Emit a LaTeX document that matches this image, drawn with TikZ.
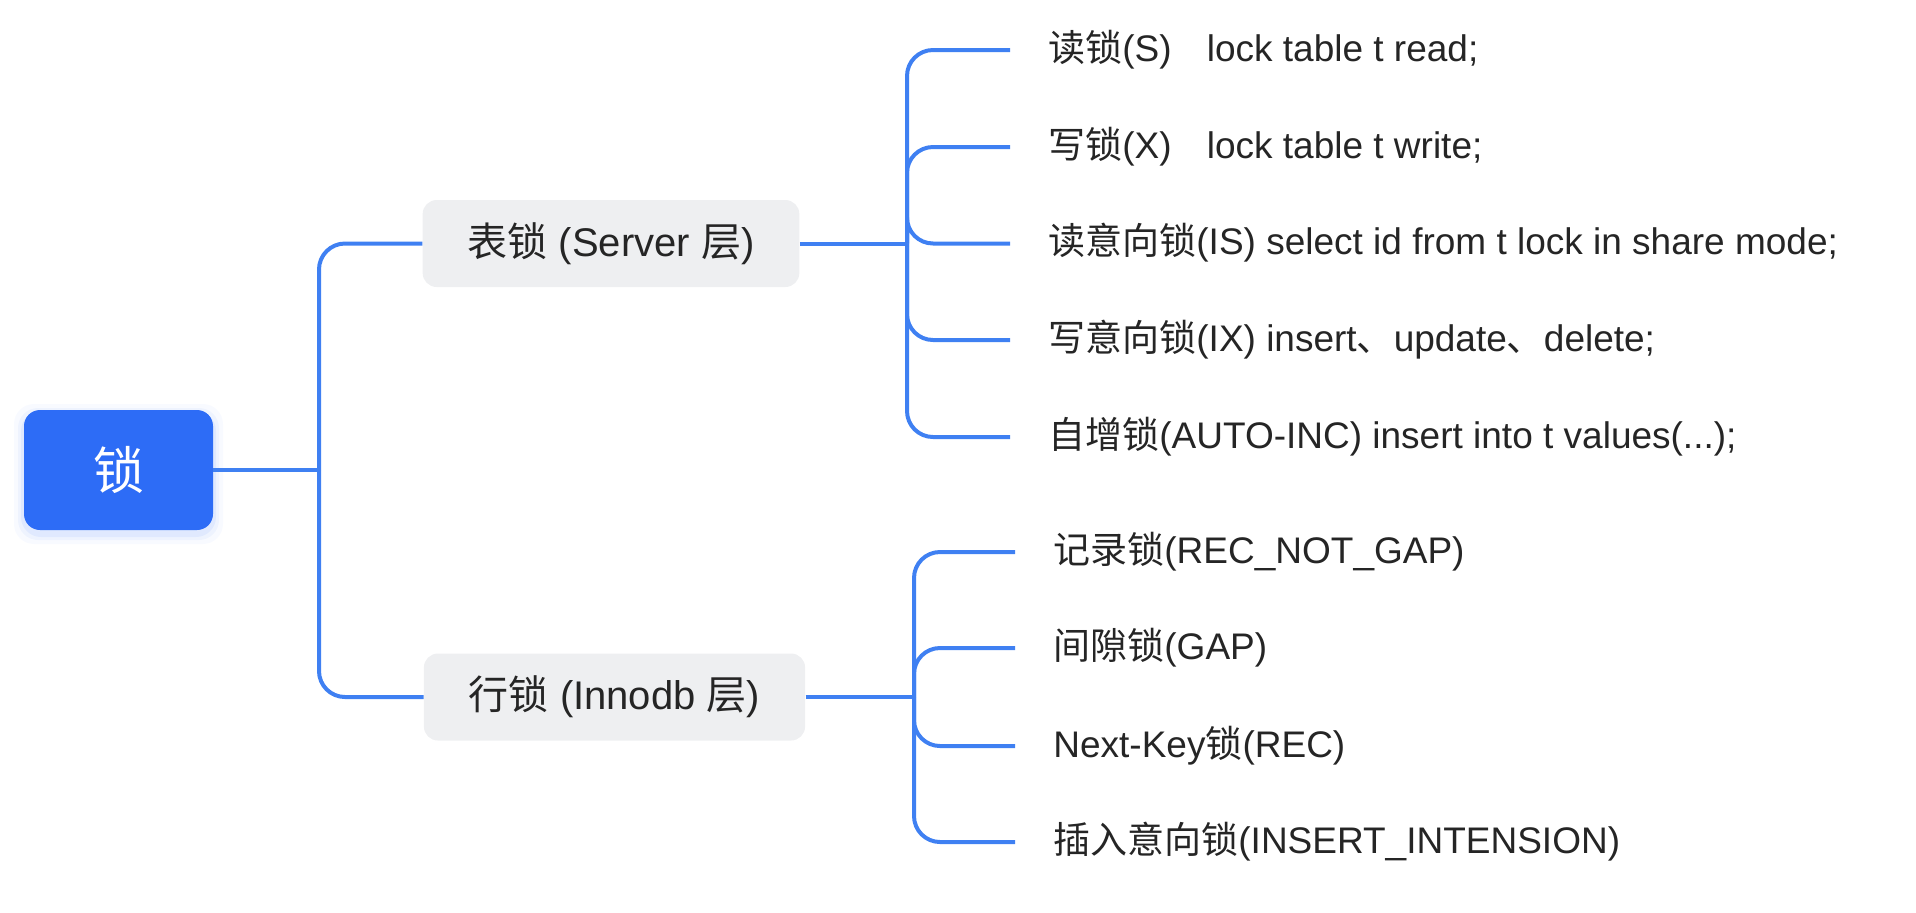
\documentclass[tikz,border=0pt]{standalone}
\usepackage{fontspec}
\setmainfont{Liberation Sans}
\newfontfamily\cjk{Noto Sans CJK SC}
\usetikzlibrary{positioning}
\definecolor{lineblue}{HTML}{3F80F2}
\definecolor{rootblue}{HTML}{2D6CF6}
\definecolor{boxgrey}{HTML}{EEEFF1}
\definecolor{txt}{HTML}{252525}
\newcommand{\zh}[1]{{\cjk #1}}
\tikzset{
  conn/.style={draw=lineblue, line width=2pt, rounded corners=13pt},
  rootbox/.style={fill=rootblue, rounded corners=8pt, minimum width=94.5pt, minimum height=60pt,
    text=white, font=\cjk\fontsize{25.5pt}{30pt}\selectfont, inner sep=0pt},
  catbox/.style={fill=boxgrey, rounded corners=7pt, minimum height=43.5pt, inner xsep=22.5pt,
    text=txt, font=\fontsize{20pt}{24pt}\selectfont},
  leaf/.style={anchor=west, inner xsep=19pt, inner ysep=0pt, text=txt,
    font=\fontsize{18.5pt}{22pt}\selectfont, text height=1.13em, text depth=0em}
}
\begin{document}
\begin{tikzpicture}[x=0.5pt, y=-0.5pt]
\useasboundingbox (0,0) rectangle (1916,912);
% soft glow under root
\foreach \g/\o in {10/0.03, 6/0.05, 3/0.07}{
  \fill[rootblue, opacity=\o, rounded corners=10pt] (24-\g,410-\g+4) rectangle (213+\g,530+\g+4);
}
\node[rootbox] (root) at (118.5,470) {锁};
\node[catbox] (tb) at (611,243.5) {\zh{表锁} (Server \zh{层})};
\node[catbox] (rb) at (614.5,697) {\zh{行锁} (Innodb \zh{层})};
\coordinate (trunk) at (319,470);
\coordinate (j1) at (907,243.5);
\coordinate (j2) at (914,697);
% table-lock leaves
\node[leaf] (a1) at (1010,50)  {\zh{读锁}(S)\hspace{0.95em}lock table t read;};
\node[leaf] (a2) at (1010,147) {\zh{写锁}(X)\hspace{0.95em}lock table t write;};
\node[leaf] (a3) at (1010,243.5) {\zh{读意向锁}(IS) select id from t lock in share mode;};
\node[leaf] (a4) at (1010,340) {\zh{写意向锁}(IX) insert\zh{、}update\zh{、}delete;};
\node[leaf] (a5) at (1010,437) {\zh{自增锁}(AUTO-INC) insert into t values(...);};
% row-lock leaves
\node[leaf] (b1) at (1015,552) {\zh{记录锁}(REC\_NOT\_GAP)};
\node[leaf] (b2) at (1015,648) {\zh{间隙锁}(GAP)};
\node[leaf] (b3) at (1015,746) {Next-Key\zh{锁}(REC)};
\node[leaf] (b4) at (1015,842) {\zh{插入意向锁}(INSERT\_INTENSION)};
% connectors
\draw[conn] (root.east) -- (trunk);
\draw[conn] (trunk) |- (tb.west);
\draw[conn] (trunk) |- (rb.west);
\draw[conn] (tb.east) -- (j1);
\draw[conn] (rb.east) -- (j2);
\foreach \c in {a1,a2,a3,a4,a5}{ \draw[conn] (j1) |- (\c.west); }
\foreach \c in {b1,b2,b3,b4}{ \draw[conn] (j2) |- (\c.west); }
\end{tikzpicture}
\end{document}
